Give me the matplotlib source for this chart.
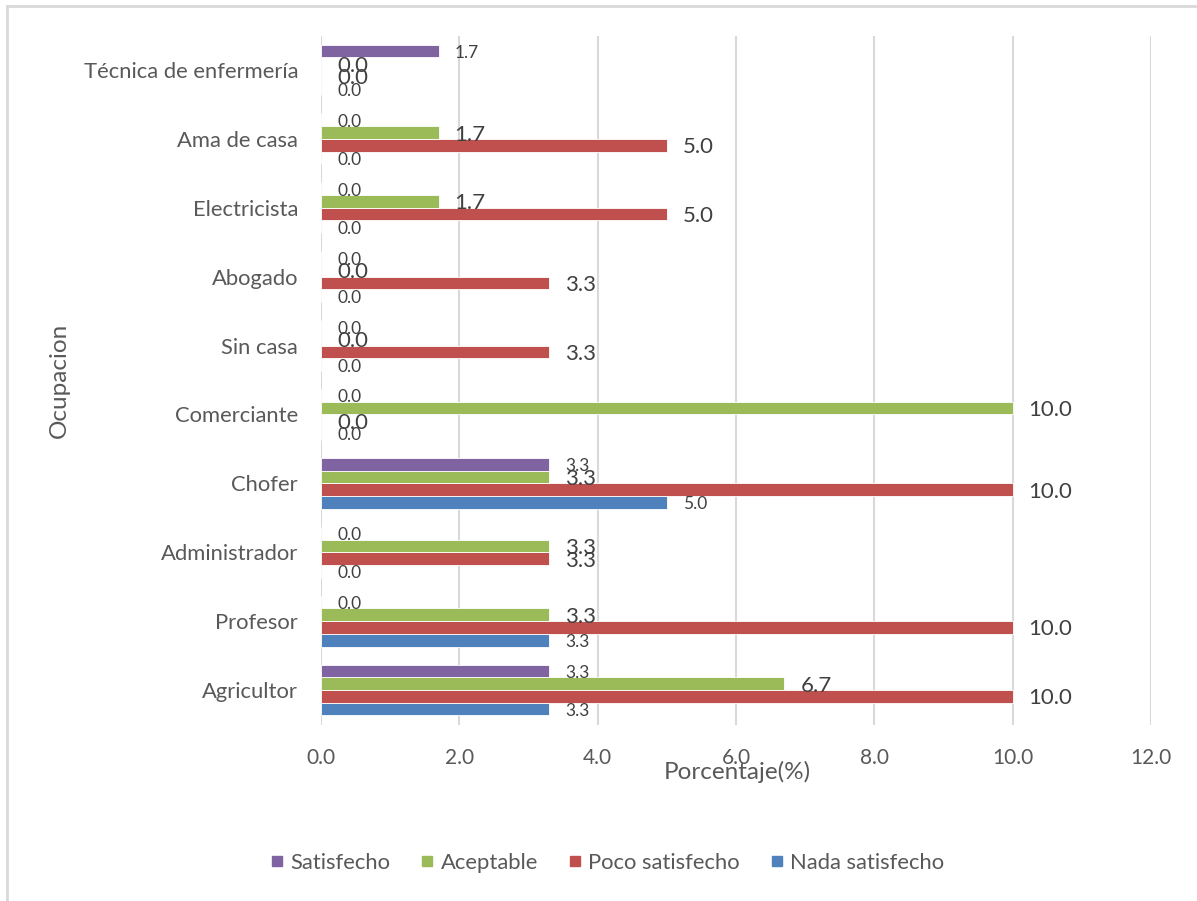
import matplotlib
matplotlib.use("Agg")
import matplotlib.pyplot as plt
import numpy as np
from matplotlib.lines import Line2D

plt.rcParams['font.family'] = ['Lato', 'DejaVu Sans']

categories = ["Agricultor", "Profesor", "Administrador", "Chofer", "Comerciante",
              "Sin casa", "Abogado", "Electricista", "Ama de casa", "Técnica de enfermería"]
nada = [3.3, 3.3, 0.0, 5.0, 0.0, 0.0, 0.0, 0.0, 0.0, 0.0]
poco = [10.0, 10.0, 3.3, 10.0, 0.0, 3.3, 3.3, 5.0, 5.0, 0.0]
aceptable = [6.7, 3.3, 3.3, 3.3, 10.0, 0.0, 0.0, 1.7, 1.7, 0.0]
satisfecho = [3.3, 0.0, 0.0, 3.3, 0.0, 0.0, 0.0, 0.0, 0.0, 1.7]
xticks = [0.0, 2.0, 4.0, 6.0, 8.0, 10.0, 12.0]

series = [
    ("Nada satisfecho", nada, "#4F81BD", 12.5),
    ("Poco satisfecho", poco, "#C0504D", 16),
    ("Aceptable", aceptable, "#9BBB59", 16),
    ("Satisfecho", satisfecho, "#8064A2", 12.5),
]

fig = plt.figure(figsize=(11.97, 9.01), dpi=100)
ax = fig.add_axes([321/1197, 1-724.5/901, (1151-321)/1197, (724.5-35.5)/901])

y = np.arange(len(categories))
h = 0.184
offsets = [-1.5, -0.5, 0.5, 1.5]
txtcol = "#404040"
for (name, vals, col, fs), off in zip(series, offsets):
    pos = y + off * h
    ax.barh(pos, vals, height=h, color=col, edgecolor="white", linewidth=0.6, label=name, zorder=3)
    for p, v in zip(pos, vals):
        ax.annotate(f"{v:.1f}", xy=(v, p), xytext=(16, -2), textcoords="offset pixels",
                    ha="left", va="center", fontsize=fs, color=txtcol, zorder=4)

ax.set_xlim(0, 12)
ax.set_ylim(-0.5, len(categories) - 0.5)
ax.set_xticks(xticks)
ax.set_xticklabels([f"{t:.1f}" for t in xticks], fontsize=15, color="#595959")
ax.set_yticks(y)
ax.set_yticklabels(categories, fontsize=15.8, color="#595959")
ax.tick_params(axis="both", length=0)
ax.tick_params(axis="x", pad=17)
ax.tick_params(axis="y", pad=16.5)
ax.grid(axis="x", color="#D9D9D9", linewidth=1.5, zorder=0)
for s in ax.spines.values():
    s.set_visible(False)

fig.text(737/1197, 1-772/901, "Porcentaje(%)", ha="center", va="center", fontsize=17.5, color="#595959")
fig.text(59/1197, 1-380/901, "Ocupacion", ha="center", va="center", rotation=90, fontsize=17.5, color="#595959")

handles = [Line2D([], [], marker="s", linestyle="", markersize=7.5, color=c) for _, _, c, _ in reversed(series)]
labels = [n for n, _, _, _ in reversed(series)]
fig.legend(handles, labels, loc="center", bbox_to_anchor=(608/1197, 1-863/901), ncol=4, frameon=False,
           fontsize=15.8, handlelength=0.5, handletextpad=0.35, columnspacing=1.45, labelcolor="#595959")

# outer border (left and top)
fig.add_artist(Line2D([7/1197, 7/1197], [0, 1-6/901], transform=fig.transFigure, color="#D9D9D9", lw=2))
fig.add_artist(Line2D([7/1197, 1], [1-6/901, 1-6/901], transform=fig.transFigure, color="#D9D9D9", lw=2))

fig.savefig("out.png", dpi=100)
